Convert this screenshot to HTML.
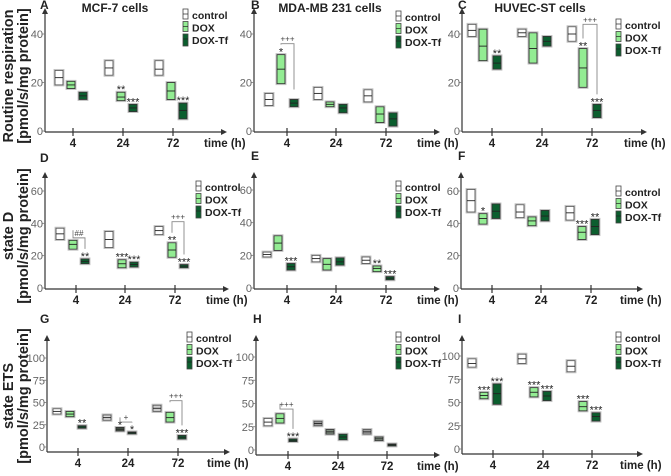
<!DOCTYPE html>
<html><head><meta charset="utf-8">
<style>
html,body{margin:0;padding:0;background:#fff;}
svg{display:block;font-family:"Liberation Sans",Arial,sans-serif;}
</style></head>
<body>
<svg id="fig" width="671" height="476" viewBox="0 0 671 476">
<g font-weight="bold" font-size="14.5" fill="#222" text-anchor="middle">
<text transform="translate(13,76) rotate(-90)">Routine respiration</text>
<text transform="translate(28,76) rotate(-90)">[pmol/s/mg protein]</text>
<text transform="translate(13,236) rotate(-90)">state D</text>
<text transform="translate(28,236) rotate(-90)">[pmol/s/mg protein]</text>
<text transform="translate(13,396) rotate(-90)">state ETS</text>
<text transform="translate(28,396) rotate(-90)">[pmol/s/mg protein]</text>
</g>
<g font-weight="bold" font-size="12" fill="#222" text-anchor="middle">
<text x="115" y="12">MCF-7 cells</text>
<text x="330" y="12">MDA-MB 231 cells</text>
<text x="540" y="12">HUVEC-ST cells</text>
</g>
</svg>
<script>
// ---- data: [min, median, max] per group, order control / DOX / DOX-Tf per time point
const times = ["4", "24", "72"];
const groups = ["control", "DOX", "DOX-Tf"];
const tickA = ["0", "20", "40"];
const tickD = ["0", "20", "40", "60"];
const tickG = ["0", "25", "50", "75", "100"];
const dataA = [[[19,22,25],[17.5,19,20.5],[13,14.5,16]],[[23,26,29],[12.5,14,16],[8,9.5,11]],[[23,25.5,29],[13,16.5,20],[5,8.5,11.5]]];
const dataB = [[[10.5,13,15.5],[19.5,25.5,31.5],[10,11.5,13]],[[13,15.5,18],[10,11,12],[7.5,9.5,11]],[[12,14.5,17],[3.5,7,10],[2,5,7.5]]];
const dataC = [[[39,41.5,44],[29,35,42],[25.5,28,31]],[[39,40.5,42],[28,34,40.5],[35,37,39]],[[37,40,43],[18,26,34],[5.5,8.5,11]]];
const dataD = [[[30,33.5,37],[24,27,29.5],[15,16.5,18]],[[25,30,35],[12.5,15,17.5],[13,14.5,16]],[[33,35.5,38],[19,23.5,28],[12.5,13.5,14.5]]];
const dataE = [[[19,20.5,22],[23,27.5,32],[11,13,15]],[[16,18,20],[11,14.5,18],[14,16,18.5]],[[15,17,19],[10,12,13.5],[5,6,7]]];
const dataF = [[[47,54,61],[39.5,43,46],[43,47.5,52]],[[43.5,47,51.5],[38.5,41.5,44],[41.5,44.5,48]],[[42,46.5,50.5],[30,34.5,38],[33,38,42.5]]];
const dataG = [[[37,40,43],[34,37,40],[21,22.5,24]],[[30,33,36],[18,20,22],[15,16,17]],[[40,43.5,47],[28,33,39],[9,11,13]]];
const dataH = [[[26,30,34],[29,34,39],[9,10.5,12]],[[26,28.5,31],[17,19.5,22],[11,14,17]],[[17,19.5,22],[10,12,14],[4.5,5.5,6.5]]];
const dataI = [[[88,92,97],[54,57.5,61],[48,59.5,70]],[[92,97,102],[56,61,66],[52,57,62]],[[83,89,95],[41,45.5,51],[30,35,39]]];
const starsA = [[1,1,"**"],[1,2,"***"],[2,2,"***"]];
const starsB = [[0,1,"*"]];
const starsC = [[0,2,"**"],[2,1,"**"],[2,2,"***"]];
const starsD = [[0,2,"**"],[1,1,"***"],[1,2,"***"],[2,1,"**"],[2,2,"***"]];
const starsE = [[0,2,"***"],[2,1,"**"],[2,2,"***"]];
const starsF = [[0,1,"*"],[2,1,"***"],[2,2,"**"]];
const starsG = [[0,2,"**"],[1,1,"*"],[1,2,"*"],[2,2,"***"]];
const starsH = [[0,2,"***"]];
const starsI = [[0,1,"***"],[0,2,"***"],[1,1,"***"],[1,2,"***"],[2,1,"***"],[2,2,"***"]];
const brB = [[0,"+++",36]];
const brC = [[2,"+++",44]];
const brD = [[0,"##",31],[2,"+++",41]];
const brG = [[1,"+",28],[2,"+++",52]];
const brH = [[0,"+++",44]];

const svg = document.getElementById('fig');
const NS = 'http://www.w3.org/2000/svg';
function mk(tag, attrs, parent){const e=document.createElementNS(NS,tag);for(const k in attrs)e.setAttribute(k,attrs[k]);(parent||svg).appendChild(e);return e;}

const COL = {control:"#ffffff", DOX:"#93ec93", "DOX-Tf":"#0b5e2e"};
const panels = [
 {id:"A",ax:45,y0:131,yTop:8,vMax:40,pMax:34,tk:tickA,ticks:[73,123,173],off:[-14,-2,10],xEnd:227,data:dataA,stars:starsA,br:[],leg:[185,15],letter:[40,9]},
 {id:"B",ax:254,y0:131,yTop:8,vMax:40,pMax:34,tk:tickA,ticks:[287,336,386],off:[-18,-6,7],xEnd:440,data:dataB,stars:starsB,br:brB,leg:[398,17],letter:[251,9]},
 {id:"C",ax:462,y0:131,yTop:8,vMax:40,pMax:34,tk:tickA,ticks:[492,542,592],off:[-20,-9,5],xEnd:647,data:dataC,stars:starsC,br:brC,leg:[618,25],letter:[458,9]},
 {id:"D",ax:45,y0:288,yTop:172,vMax:60,pMax:191,tk:tickD,ticks:[76,125,175],off:[-16,-3,9],xEnd:229,data:dataD,stars:starsD,br:brD,leg:[198,187],letter:[40,162]},
 {id:"E",ax:254,y0:288,yTop:172,vMax:60,pMax:190,tk:tickD,ticks:[287,336,386],off:[-20,-9,4],xEnd:440,data:dataE,stars:starsE,br:[],leg:[398,187],letter:[251,160]},
 {id:"F",ax:461,y0:288,yTop:172,vMax:60,pMax:191,tk:tickD,ticks:[492,541,591],off:[-21,-9,4],xEnd:643,data:dataF,stars:starsF,br:[],leg:[618,192],letter:[458,160]},
 {id:"G",ax:47,y0:447,yTop:335,vMax:100,pMax:358,tk:tickG,ticks:[78,128,178],off:[-21,-8,4],xEnd:230,data:dataG,stars:starsG,br:brG,leg:[189,338],letter:[40,323]},
 {id:"H",ax:256,y0:450,yTop:335,vMax:100,pMax:357,tk:tickG,ticks:[288,338,387],off:[-20,-8,5],xEnd:440,data:dataH,stars:starsH,br:brH,leg:[398,338],letter:[253,323]},
 {id:"I",ax:462,y0:449,yTop:335,vMax:100,pMax:356,tk:tickG,ticks:[493,543,592],off:[-21,-9,4],xEnd:643,data:dataI,stars:starsI,br:[],leg:[618,338],letter:[458,323]}
];
const grayFill = {"G-1-0":"#d8d8d8","G-1-1":"#4a5a4a","G-2-0":"#cfcfcf","H-1-0":"#9a9a9a","H-1-1":"#7f8f7f","H-2-0":"#a0a0a0","H-2-1":"#8a9a8a"};

panels.forEach(p=>{
  const g = mk('g',{});
  
  
  const axisY0 = p.y0 + (p.id>="G"?5:1);
  const y = v => p.y0 - v/p.vMax*(p.y0-p.pMax);
  const lt = mk('text',{x:p.letter[0],y:p.letter[1],'font-size':12,'font-weight':'bold',fill:'#222'},g);
  
  
  lt.textContent=p.id;
  const ya = mk('line',{x1:p.ax,y1:axisY0,x2:p.ax,y2:p.yTop+4,stroke:'#333','stroke-width':1.2},g);
  
  
  mk('path',{d:`M${p.ax-3},${p.yTop+6} L${p.ax},${p.yTop} L${p.ax+3},${p.yTop+6}Z`,fill:'#333'},g);
  p.tk.forEach(t=>{
    const yy=y(+t);
    mk('line',{x1:p.ax-3,y1:yy,x2:p.ax,y2:yy,stroke:'#777','stroke-width':0.8},g);
    const tx=mk('text',{x:p.ax-2,y:yy+4,'font-size':11,fill:'#666','text-anchor':'end'},g);
    
    
    tx.textContent=t;
  });
  const xa = mk('line',{x1:p.ax,y1:axisY0,x2:p.xEnd-5,y2:axisY0,stroke:'#333','stroke-width':1.2},g);
  
  
  mk('path',{d:`M${p.xEnd-6},${axisY0-3} L${p.xEnd},${axisY0} L${p.xEnd-6},${axisY0+3}Z`,fill:'#333'},g);
  times.forEach((t,i)=>{
    const tx0=p.ticks[i];
    mk('line',{x1:tx0,y1:axisY0-4,x2:tx0,y2:axisY0+4,stroke:'#333','stroke-width':1.2},g);
    const tl=mk('text',{x:tx0,y:axisY0+15,'font-size':11.5,'font-weight':'bold',fill:'#222','text-anchor':'middle'},g);
    
    
    tl.textContent=t;
  });
  const tl2=mk('text',{x:p.xEnd-23,y:axisY0+15,'font-size':11.5,'font-weight':'bold',fill:'#222'},g);
  
  
  tl2.textContent='time (h)';
  p.data.forEach((grp,i)=>{
    grp.forEach((b,j)=>{
      const cx=p.ticks[i]+p.off[j];
      const key=p.id+'-'+i+'-'+j;
      const fill=grayFill[key]||COL[groups[j]];
      const r=mk('rect',{x:cx-4,y:y(b[2]),width:8,height:Math.max(2,y(b[0])-y(b[2])),fill:fill,stroke:j==0?'#555':'#333','stroke-width':0.9},g);
      
      
      mk('rect',{x:cx-5,y:y(b[2])-1,width:10,height:Math.max(2,y(b[0])-y(b[2]))+2,fill:'none',stroke:'#bbb','stroke-width':0.8},g);
      mk('line',{x1:cx-4,y1:y(b[1]),x2:cx+4,y2:y(b[1]),stroke:'#222','stroke-width':0.9},g);
    });
  });
  p.stars.forEach(s=>{
    const b=p.data[s[0]][s[1]];
    const cx=p.ticks[s[0]]+p.off[s[1]];
    const st=mk('text',{x:cx,y:y(b[2])+1,'font-size':11,fill:'#222','text-anchor':'middle'},g);
    
    
    st.textContent=s[2];
  });
  p.br.forEach(bb=>{
    const i=bb[0];
    const x1=p.ticks[i]+p.off[1], x2=p.ticks[i]+p.off[2];
    const top=y(bb[2]);
    const b1=y(p.data[i][1][2])-10, b2=y(p.data[i][2][2])-10;
    const pl=mk('polyline',{points:`${x1},${b1} ${x1},${top} ${x2},${top} ${x2},${b2}`,fill:'none',stroke:'#888','stroke-width':0.9},g);
    
    
    const bt=mk('text',{x:(x1+x2)/2,y:top-2,'font-size':8,fill:'#444','text-anchor':'middle'},g);
    
    
    bt.textContent=bb[1];
  });
  groups.forEach((gname,k)=>{
    const lx=p.leg[0], ly=p.leg[1]+k*12.5;
    const lg=mk('g',{},g);
    
    
    mk('rect',{x:lx-2,y:ly-6,width:5,height:k==2?12:10,fill:COL[gname],stroke:'#444','stroke-width':0.8},lg);
    mk('line',{x1:lx-2,y1:ly-1,x2:lx+3,y2:ly-1,stroke:'#222','stroke-width':0.7},lg);
    const t=mk('text',{x:lx+7,y:ly+4,'font-size':10.5,'font-weight':'bold',fill:'#222'},lg);
    t.textContent=gname;
  });
});
</script>
</body></html>
